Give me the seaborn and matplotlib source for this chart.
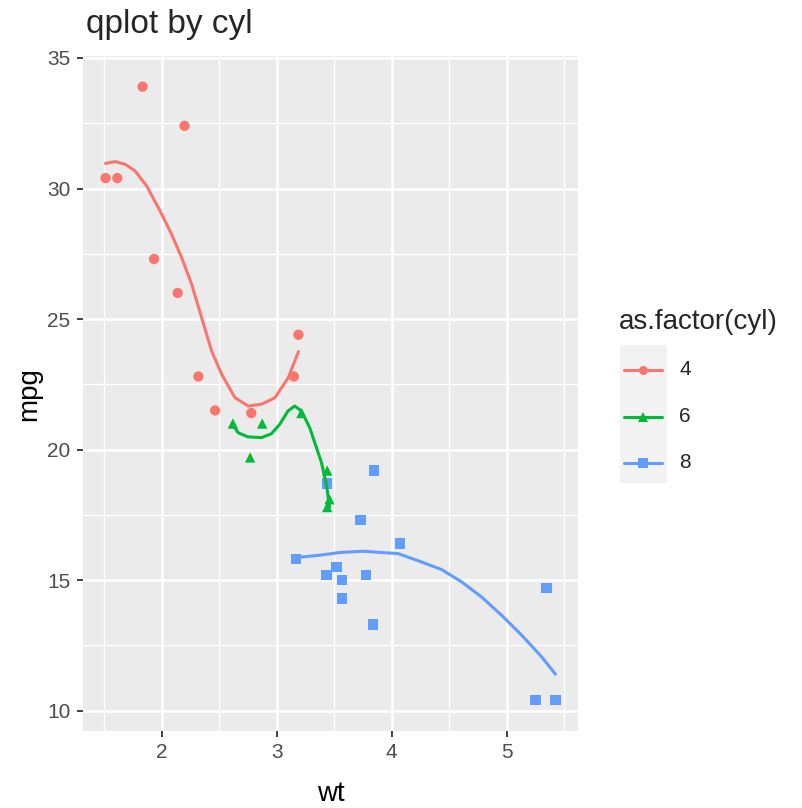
import numpy as np
import pandas as pd
import matplotlib
matplotlib.use("Agg")
import matplotlib.pyplot as plt
from matplotlib.lines import Line2D
from matplotlib.patches import Rectangle
import seaborn as sns

# mtcars data (wt, mpg, cyl)
wt = [2.620, 2.875, 2.320, 3.215, 3.440, 3.460, 3.570, 3.190, 3.150, 3.440,
      3.440, 4.070, 3.730, 3.780, 5.250, 5.424, 5.345, 2.200, 1.615, 1.835,
      2.465, 3.520, 3.435, 3.840, 3.845, 1.935, 2.140, 1.513, 3.170, 2.770,
      3.570, 2.780]
mpg = [21.0, 21.0, 22.8, 21.4, 18.7, 18.1, 14.3, 24.4, 22.8, 19.2,
       17.8, 16.4, 17.3, 15.2, 10.4, 10.4, 14.7, 32.4, 30.4, 33.9,
       21.5, 15.5, 15.2, 13.3, 19.2, 27.3, 26.0, 30.4, 15.8, 19.7,
       15.0, 21.4]
cyl = [6, 6, 4, 6, 8, 6, 8, 4, 4, 6,
       6, 8, 8, 8, 8, 8, 8, 4, 4, 4,
       4, 8, 8, 8, 8, 4, 4, 4, 8, 6,
       8, 4]

# smoothed (loess) curves
smooth4_wt = [1.513, 1.595, 1.682, 1.769, 1.870, 1.986, 2.087, 2.174, 2.261,
              2.348, 2.435, 2.522, 2.638, 2.754, 2.870, 2.986, 3.102, 3.190]
smooth4_mpg = [30.96, 31.03, 30.93, 30.68, 30.10, 29.15, 28.25, 27.36, 26.34,
               25.06, 23.78, 22.89, 21.99, 21.67, 21.74, 21.99, 22.76, 23.75]
smooth6_wt = [2.620, 2.665, 2.750, 2.868, 2.955, 3.027, 3.099, 3.157, 3.216,
              3.288, 3.346, 3.390, 3.433, 3.460]
smooth6_mpg = [20.95, 20.65, 20.49, 20.46, 20.61, 20.97, 21.48, 21.67, 21.48,
               20.84, 20.08, 19.50, 18.67, 17.80]
smooth8_wt = [3.170, 3.361, 3.549, 3.752, 3.911, 4.056, 4.259, 4.433, 4.607,
              4.781, 4.955, 5.129, 5.303, 5.424]
smooth8_mpg = [15.87, 15.95, 16.06, 16.11, 16.06, 16.02, 15.70, 15.41, 14.94,
               14.36, 13.66, 12.90, 12.07, 11.40]

groups = ["4", "6", "8"]
colors = ["#F8766D", "#00BA38", "#619CFF"]
markers = ["o", "^", "s"]
x_ticks = [2, 3, 4, 5]
y_ticks = [10, 15, 20, 25, 30, 35]

df = pd.DataFrame({"wt": wt, "mpg": mpg, "cyl": [str(c) for c in cyl]})
smooth = pd.concat([
    pd.DataFrame({"wt": smooth4_wt, "mpg": smooth4_mpg, "cyl": "4"}),
    pd.DataFrame({"wt": smooth6_wt, "mpg": smooth6_mpg, "cyl": "6"}),
    pd.DataFrame({"wt": smooth8_wt, "mpg": smooth8_mpg, "cyl": "8"}),
], ignore_index=True)

sns.set_style("white")
plt.rcParams["font.family"] = ["Liberation Sans", "DejaVu Sans"]

fig = plt.figure(figsize=(8.02, 8.08), dpi=100)
W, H = 802, 808
L, R, T, B = 83, 578, 56, 731
ax = fig.add_axes([L / W, 1 - B / H, (R - L) / W, (B - T) / H])
ax.set_facecolor("#EBEBEB")

pal = dict(zip(groups, colors))
mk = dict(zip(groups, markers))
sns.scatterplot(data=df, x="wt", y="mpg", hue="cyl", style="cyl", hue_order=groups,
                style_order=groups, palette=pal, markers=mk, s=55, linewidth=0,
                legend=False, ax=ax, zorder=3)
sns.lineplot(data=smooth, x="wt", y="mpg", hue="cyl", hue_order=groups, palette=pal,
             linewidth=2.2, legend=False, ax=ax, sort=False, estimator=None, zorder=4)

ax.set_xlim(1.317, 5.620)
ax.set_ylim(9.225, 35.075)
ax.set_xticks(x_ticks)
ax.set_yticks(y_ticks)
ax.set_xticks([1.5, 2.5, 3.5, 4.5, 5.5], minor=True)
ax.set_yticks([12.5, 17.5, 22.5, 27.5, 32.5], minor=True)
ax.grid(which="major", color="white", linewidth=1.8)
ax.grid(which="minor", color="white", linewidth=0.9)
ax.set_axisbelow(True)
for s in ax.spines.values():
    s.set_visible(False)
ax.tick_params(which="major", length=4.5, width=1.3, color="#333333",
               labelsize=15, labelcolor="#4D4D4D", pad=4.5,
               bottom=True, left=True)
ax.tick_params(which="minor", length=0)
ax.set_xlabel("wt", fontsize=20, color="black")
ax.set_ylabel("mpg", fontsize=20, color="black")
ax.xaxis.set_label_coords(331 / W, 1 - 781 / H, transform=fig.transFigure)
ax.yaxis.set_label_coords(42 / W, 1 - 394 / H, transform=fig.transFigure)
fig.text(86 / W, 1 - 33 / H, "qplot by cyl", fontsize=24, ha="left", va="baseline")

# legend drawn manually (ggplot style keys)
fig.text(619 / W, 1 - 322 / H, "as.factor(cyl)", fontsize=20, ha="left", va="center")
fig.patches.append(Rectangle((620 / W, 1 - 483 / H), 47 / W, 138 / H,
                             transform=fig.transFigure, facecolor="#F2F2F2",
                             edgecolor="none", zorder=0))
key_y = [370, 417, 463]
for g, c, m, yk in zip(groups, colors, markers, key_y):
    yf = 1 - yk / H
    fig.lines.append(Line2D([624 / W, 662 / W], [yf, yf], transform=fig.transFigure,
                            color=c, linewidth=2.2))
    fig.lines.append(Line2D([643 / W], [yf], transform=fig.transFigure, color=c,
                            marker=m, markersize=6.5, markeredgewidth=0, linestyle="none"))
    fig.text(679 / W, yf, g, fontsize=15, ha="left", va="center")

fig.savefig("out.png", dpi=100)
